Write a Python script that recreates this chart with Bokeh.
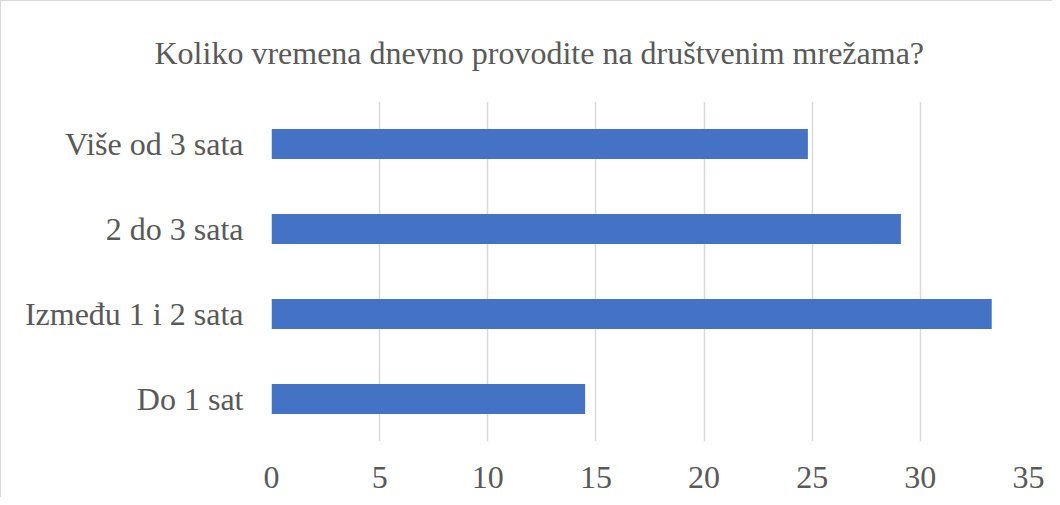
from bokeh.plotting import figure
from bokeh.models import FactorRange, Range1d, FixedTicker
from bokeh.embed import file_html
from bokeh.resources import INLINE

categories = ["Do 1 sat", "Između 1 i 2 sata", "2 do 3 sata", "Više od 3 sata"]
values = [14.5, 33.3, 29.1, 24.8]
x_ticks = [0, 5, 10, 15, 20, 25, 30, 35]
title_text = "Koliko vremena dnevno provodite na društvenim mrežama?"

FONT = "Liberation Serif"
TXT = "#595959"

p = figure(
    width=1052, height=497,
    y_range=FactorRange(factors=categories),
    x_range=Range1d(0, 35),
    output_backend="svg", toolbar_location=None,
    min_border_left=270, min_border_right=25, min_border_top=100, min_border_bottom=57,
)
p.styles = {"border-left": "1px solid #d9d9d9", "border-top": "1px solid #d9d9d9"}

p.hbar(y=categories, right=values, left=0, height=0.353, color="#4472C4", line_color=None)

p.outline_line_color = None
p.ygrid.grid_line_color = None
p.xgrid.grid_line_color = "#d9d9d9"
p.xgrid.grid_line_width = 1.5
p.xgrid.ticker = FixedTicker(ticks=x_ticks)

p.xaxis.ticker = FixedTicker(ticks=x_ticks)
for ax in (p.xaxis[0], p.yaxis[0]):
    ax.axis_line_color = None
    ax.major_tick_line_color = None
    ax.minor_tick_line_color = None
    ax.major_tick_out = 0
    ax.major_tick_in = 0
    ax.major_label_text_font = FONT
    ax.major_label_text_font_size = "32px"
    ax.major_label_text_color = TXT
p.yaxis.major_label_standoff = 28
p.xaxis.major_label_standoff = 25

p.title.text = title_text
p.title.text_font = FONT
p.title.text_font_size = "32px"
p.title.text_font_style = "normal"
p.title.text_color = TXT
p.title.align = "left"
p.title.offset = -117
p.title.standoff = 61

open("out.html", "w").write(file_html(p, INLINE))
